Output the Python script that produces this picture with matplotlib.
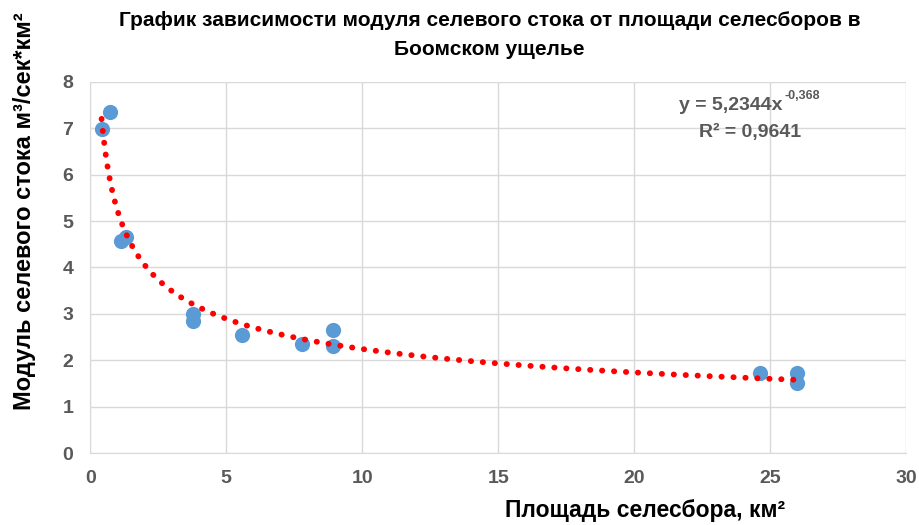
import matplotlib.pyplot as plt
import numpy as np

# catchment area, km2 and mudflow modulus, m3/s*km2
area = [0.42, 0.74, 1.15, 1.3, 3.79, 3.79, 5.58, 7.78, 8.91, 8.91, 24.63, 25.98, 25.98]
modulus = [6.98, 7.35, 4.58, 4.65, 3.0, 2.85, 2.54, 2.36, 2.65, 2.31, 1.72, 1.72, 1.52]

# power trendline coefficients shown on the chart
coef_a = 5.2344
coef_b = -0.368
eq_base = "y = 5,2344x"
eq_power = "-0,368"
r2_text = "R² = 0,9641"

plt.rcParams["font.family"] = ["Liberation Sans", "DejaVu Sans"]

fig = plt.figure(figsize=(9.2, 5.25), dpi=100)
ax = fig.add_axes([0.098, 0.137, 0.887, 0.707])

ax.scatter(area, modulus, s=120, color="#5b9bd5", zorder=3, linewidths=0)

xs = np.linspace(min(area), max(area), 400)
ax.plot(xs, coef_a * xs ** coef_b, color="#ff0000", lw=4.2,
        linestyle=(0, (0.05, 2.0)), dash_capstyle="round", zorder=4)

ax.set_xlim(0, 30)
ax.set_ylim(0, 8)
ax.set_xticks(range(0, 31, 5))
ax.set_yticks(range(0, 9))
ax.grid(True, color="#d9d9d9", lw=1)
ax.set_axisbelow(True)
for s in ["top", "right"]:
    ax.spines[s].set_visible(False)
for s in ["left", "bottom"]:
    ax.spines[s].set_color("#d9d9d9")
ax.tick_params(length=0, labelsize=14, labelcolor="#595959", pad=12)
for lbl in ax.get_xticklabels() + ax.get_yticklabels():
    lbl.set_fontweight("bold")

fig.text(0.532, 0.96, "График зависимости модуля селевого стока от площади селесборов в",
         ha="center", va="center", fontsize=15, fontweight="bold")
fig.text(0.532, 0.905, "Боомском ущелье", ha="center", va="center",
         fontsize=15, fontweight="bold")

fig.text(0.701, 0.027, "Площадь селесбора, км²", ha="center", va="center",
         fontsize=16.5, fontweight="bold")
fig.text(0.027, 0.22, "Модуль селевого стока м³/сек*км²",
         ha="center", va="bottom", rotation=90, fontsize=17, fontweight="bold")

# trendline equation with a raised exponent
t = fig.text(0.738, 0.8, eq_base, ha="left", va="center", fontsize=14,
             fontweight="bold", color="#595959")
fig.canvas.draw()
bb = t.get_window_extent().transformed(fig.transFigure.inverted())
fig.text(bb.x1 + 0.002, 0.818, eq_power, ha="left", va="center", fontsize=9,
         fontweight="bold", color="#595959")
fig.text(0.815, 0.747, r2_text, ha="center", va="center", fontsize=14,
         fontweight="bold", color="#595959")

fig.savefig("out.png", dpi=100)
